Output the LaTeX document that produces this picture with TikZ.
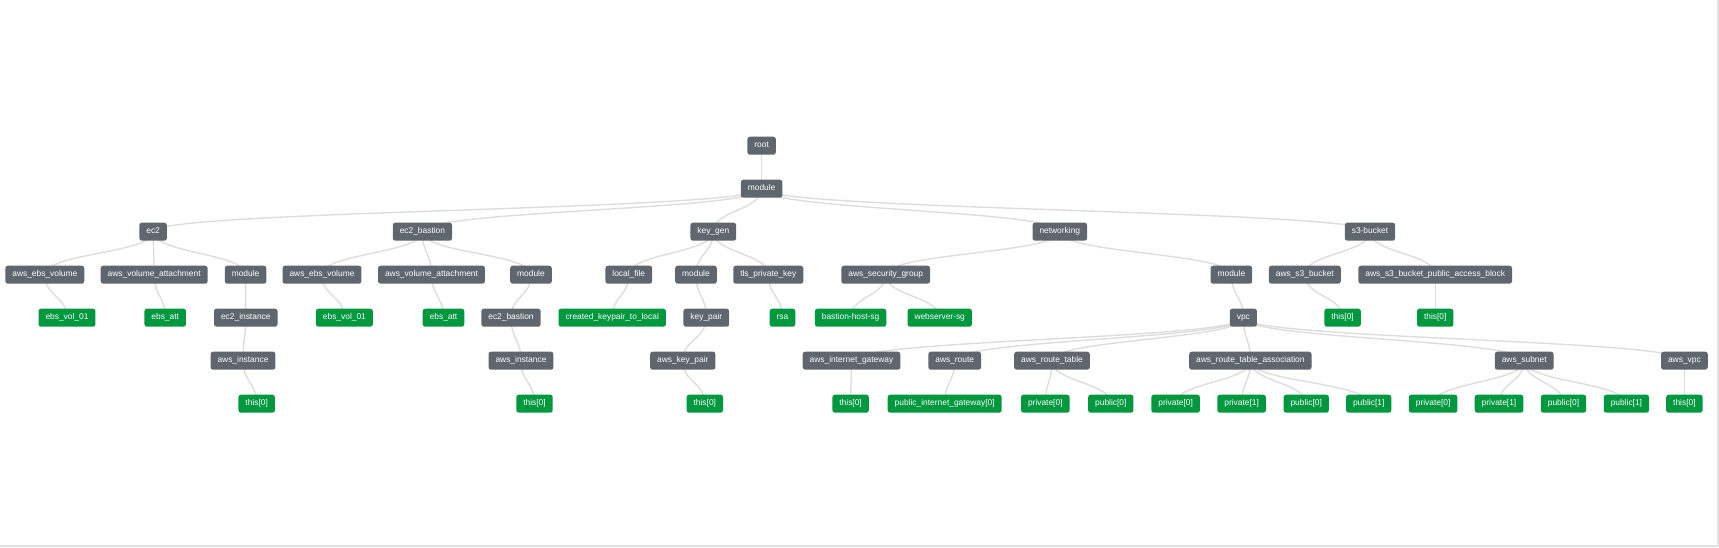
\documentclass[tikz,border=0pt]{standalone}
\usepackage{fontspec}
\setmainfont{Liberation Sans}
\usetikzlibrary{calc}
\pgfdeclarelayer{background}
\pgfsetlayers{background,main}
\definecolor{nodegray}{HTML}{5F666D}
\definecolor{nodegreen}{HTML}{00983F}
\definecolor{edgegray}{HTML}{DDDDDD}
\definecolor{framegray}{HTML}{E2E2E2}
\newcommand{\treelink}[2]{%
  \path ($(#1.center)!0.5!(#2.center)$) coordinate (tlm);
  \draw[edge] (#1.center) .. controls (#1.center |- tlm) and (#2.center |- tlm) .. (#2.center);}
\tikzset{
  box/.style={rounded corners=2.5pt, minimum height=18pt, inner xsep=7pt, inner ysep=0pt,
    text=white, font=\fontsize{8.4}{10}\selectfont, text height=6.1pt, text depth=1.8pt},
  gbox/.style={box, fill=nodegray},
  okbox/.style={box, fill=nodegreen},
  edge/.style={draw=edgegray, line width=1.4pt}
}
\begin{document}
\begin{tikzpicture}[x=1pt,y=-1pt]
\useasboundingbox (0,0) rectangle (1719,547);
\fill[framegray] (1716.7,0) rectangle (1719,547);
\fill[framegray] (0,545) rectangle (1719,547);
% level 0/1
\node[gbox] (root) at (761.6,145.7) {root};
\node[gbox] (mtop) at (761.6,188.7) {module};
% level 2
\node[gbox] (ec2) at (153.1,231.7) {ec2};
\node[gbox] (ecb) at (422.4,231.7) {ec2\_bastion};
\node[gbox] (kg) at (713.3,231.7) {key\_gen};
\node[gbox] (net) at (1059.8,231.7) {networking};
\node[gbox] (s3) at (1370,231.7) {s3-bucket};
% level 3
\node[gbox] (ebsA) at (44.8,274.7) {aws\_ebs\_volume};
\node[gbox] (vaA) at (154.2,274.7) {aws\_volume\_attachment};
\node[gbox] (modA) at (245.6,274.7) {module};
\node[gbox] (ebsB) at (322,274.7) {aws\_ebs\_volume};
\node[gbox] (vaB) at (431.5,274.7) {aws\_volume\_attachment};
\node[gbox] (modB) at (531,274.7) {module};
\node[gbox] (lf) at (628.8,274.7) {local\_file};
\node[gbox] (modK) at (696,274.7) {module};
\node[gbox] (tls) at (768.3,274.7) {tls\_private\_key};
\node[gbox] (sg) at (885.7,274.7) {aws\_security\_group};
\node[gbox] (modN) at (1231.4,274.7) {module};
\node[gbox] (s3b) at (1304.8,274.7) {aws\_s3\_bucket};
\node[gbox] (pab) at (1435.2,274.7) {aws\_s3\_bucket\_public\_access\_block};
% level 4
\node[okbox] (volA) at (67,317.7) {ebs\_vol\_01};
\node[okbox] (attA) at (165.2,317.7) {ebs\_att};
\node[gbox] (eci) at (245.8,317.7) {ec2\_instance};
\node[okbox] (volB) at (344.4,317.7) {ebs\_vol\_01};
\node[okbox] (attB) at (443.5,317.7) {ebs\_att};
\node[gbox] (ecb2) at (511,317.7) {ec2\_bastion};
\node[okbox] (ckl) at (612.2,317.7) {created\_keypair\_to\_local};
\node[gbox] (kp) at (706.3,317.7) {key\_pair};
\node[okbox] (rsa) at (782.5,317.7) {rsa};
\node[okbox] (bhsg) at (850.6,317.7) {bastion-host-sg};
\node[okbox] (wssg) at (939.7,317.7) {webserver-sg};
\node[gbox] (vpc) at (1243.4,317.7) {vpc};
\node[okbox] (s3t) at (1342.6,317.7) {this[0]};
\node[okbox] (pabt) at (1435.2,317.7) {this[0]};
% level 5
\node[gbox] (aiA) at (243,360.7) {aws\_instance};
\node[gbox] (aiB) at (521,360.7) {aws\_instance};
\node[gbox] (akp) at (682.8,360.7) {aws\_key\_pair};
\node[gbox] (igw) at (851.5,360.7) {aws\_internet\_gateway};
\node[gbox] (rt) at (954.7,360.7) {aws\_route};
\node[gbox] (rtb) at (1052,360.7) {aws\_route\_table};
\node[gbox] (rta) at (1250.4,360.7) {aws\_route\_table\_association};
\node[gbox] (sub) at (1524.2,360.7) {aws\_subnet};
\node[gbox] (avpc) at (1684.4,360.7) {aws\_vpc};
% level 6
\node[okbox] (tA) at (256.7,403.7) {this[0]};
\node[okbox] (tB) at (534.5,403.7) {this[0]};
\node[okbox] (tK) at (704.8,403.7) {this[0]};
\node[okbox] (tI) at (850.6,403.7) {this[0]};
\node[okbox] (pig) at (944.7,403.7) {public\_internet\_gateway[0]};
\node[okbox] (rtbp0) at (1045.3,403.7) {private[0]};
\node[okbox] (rtbu0) at (1110.8,403.7) {public[0]};
\node[okbox] (rtap0) at (1175.6,403.7) {private[0]};
\node[okbox] (rtap1) at (1241.6,403.7) {private[1]};
\node[okbox] (rtau0) at (1306.2,403.7) {public[0]};
\node[okbox] (rtau1) at (1368.7,403.7) {public[1]};
\node[okbox] (sbp0) at (1433.1,403.7) {private[0]};
\node[okbox] (sbp1) at (1499,403.7) {private[1]};
\node[okbox] (sbu0) at (1563.5,403.7) {public[0]};
\node[okbox] (sbu1) at (1626.4,403.7) {public[1]};
\node[okbox] (tV) at (1684.4,403.7) {this[0]};
\begin{pgfonlayer}{background}
\treelink{root}{mtop}
\treelink{mtop}{ec2}
\treelink{mtop}{ecb}
\treelink{mtop}{kg}
\treelink{mtop}{net}
\treelink{mtop}{s3}
\treelink{ec2}{ebsA}
\treelink{ec2}{vaA}
\treelink{ec2}{modA}
\treelink{ecb}{ebsB}
\treelink{ecb}{vaB}
\treelink{ecb}{modB}
\treelink{kg}{lf}
\treelink{kg}{modK}
\treelink{kg}{tls}
\treelink{net}{sg}
\treelink{net}{modN}
\treelink{s3}{s3b}
\treelink{s3}{pab}
\treelink{ebsA}{volA}
\treelink{vaA}{attA}
\treelink{modA}{eci}
\treelink{ebsB}{volB}
\treelink{vaB}{attB}
\treelink{modB}{ecb2}
\treelink{lf}{ckl}
\treelink{modK}{kp}
\treelink{tls}{rsa}
\treelink{sg}{bhsg}
\treelink{sg}{wssg}
\treelink{modN}{vpc}
\treelink{s3b}{s3t}
\treelink{pab}{pabt}
\treelink{eci}{aiA}
\treelink{ecb2}{aiB}
\treelink{kp}{akp}
\treelink{vpc}{igw}
\treelink{vpc}{rt}
\treelink{vpc}{rtb}
\treelink{vpc}{rta}
\treelink{vpc}{sub}
\treelink{vpc}{avpc}
\treelink{aiA}{tA}
\treelink{aiB}{tB}
\treelink{akp}{tK}
\treelink{igw}{tI}
\treelink{rt}{pig}
\treelink{rtb}{rtbp0}
\treelink{rtb}{rtbu0}
\treelink{rta}{rtap0}
\treelink{rta}{rtap1}
\treelink{rta}{rtau0}
\treelink{rta}{rtau1}
\treelink{sub}{sbp0}
\treelink{sub}{sbp1}
\treelink{sub}{sbu0}
\treelink{sub}{sbu1}
\treelink{avpc}{tV}
\end{pgfonlayer}
\end{tikzpicture}
\end{document}
